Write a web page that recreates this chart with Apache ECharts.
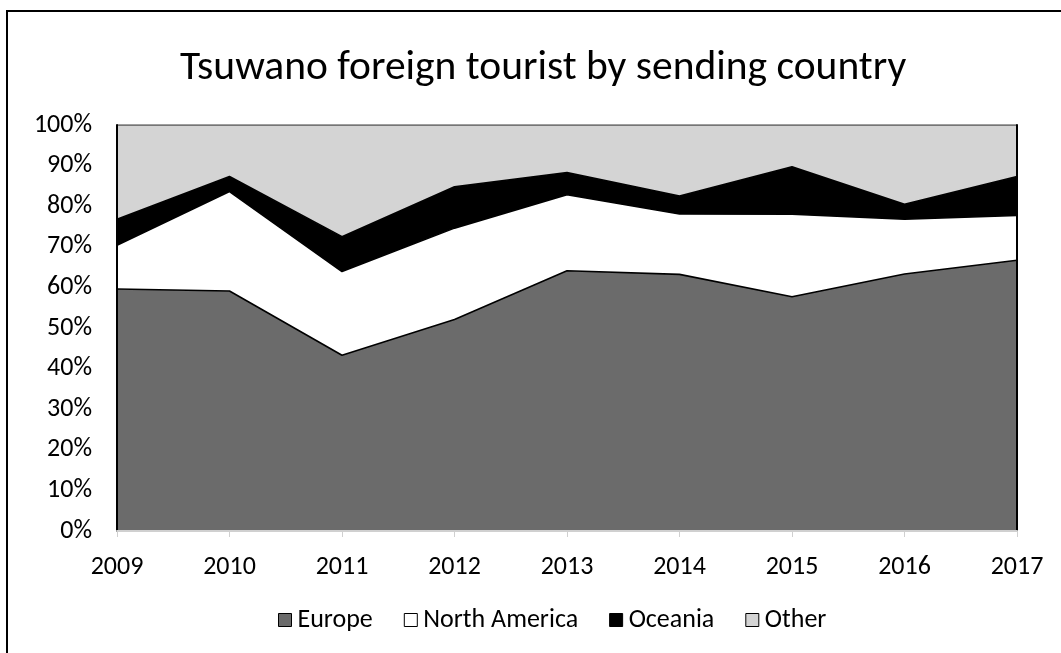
<!DOCTYPE html>
<html>
<head>
<meta charset="utf-8">
<script src="https://cdn.jsdelivr.net/npm/echarts@6/dist/echarts.min.js"></script>
<style>
  html, body { margin: 0; padding: 0; background: #ffffff; }
  #chart { width: 1061px; height: 653px; }
</style>
</head>
<body>
<div id="chart"></div>
<script>
// Share of foreign visitors to Tsuwano by sending region (percent of total)
const years = ['2009', '2010', '2011', '2012', '2013', '2014', '2015', '2016', '2017'];
const europe       = [59.6, 59.1, 43.3, 52.1, 64.1, 63.2, 57.7, 63.3, 66.7];
const northAmerica = [10.8, 24.5, 20.6, 22.5, 18.7, 14.9, 20.3, 13.5, 11.0];
const oceania      = [6.4, 3.7, 8.6, 10.2, 5.5, 4.4, 11.7, 3.7, 9.6];
const other        = [23.2, 12.7, 27.5, 15.2, 11.7, 17.5, 10.3, 19.5, 12.7];

const FONT = 'Carlito, Calibri, "Open Sans", sans-serif';

function layer(name, values, fill, lineColor) {
  return {
    name: name,
    type: 'line',
    stack: 'total',
    data: values,
    symbol: 'none',
    areaStyle: { color: fill, opacity: 1 },
    lineStyle: { color: lineColor, width: 1.6 },
    itemStyle: { color: fill, borderColor: '#000', borderWidth: 1 },
    emphasis: { disabled: true }
  };
}

const chart = echarts.init(document.getElementById('chart'));
chart.setOption({
  animation: false,
  backgroundColor: '#ffffff',
  title: {
    text: 'Tsuwano foreign tourist by sending country',
    left: 175,
    top: 43,
    textStyle: { fontFamily: FONT, fontSize: 41.5, fontWeight: 'normal', color: '#000' }
  },
  legend: {
    top: 602,
    left: 273,
    itemWidth: 13,
    itemHeight: 13,
    itemGap: 31,
    icon: 'rect',
    textStyle: { fontFamily: FONT, fontSize: 26, color: '#000', padding: [0, 0, 0, 1] },
    data: ['Europe', 'North America', 'Oceania', 'Other'],
    itemStyle: { borderColor: '#000', borderWidth: 1 }
  },
  grid: { left: 117, right: 44, top: 125, bottom: 122 },
  xAxis: {
    type: 'category',
    boundaryGap: false,
    data: years,
    axisLine: { lineStyle: { color: '#d0d0d0', width: 2 } },
    axisTick: { show: true, length: 6, lineStyle: { color: '#d0d0d0' } },
    axisLabel: { fontFamily: FONT, fontSize: 26, color: '#000', margin: 23 },
    splitLine: { show: false },
    z: 5
  },
  yAxis: [
    {
      type: 'value',
      min: 0,
      max: 100,
      interval: 10,
      axisLine: { show: true, lineStyle: { color: '#000', width: 2 } },
      axisTick: { show: false },
      axisLabel: { fontFamily: FONT, fontSize: 26, color: '#000', formatter: '{value}%', margin: 25 },
      splitLine: { show: false },
      z: 5
    },
    {
      type: 'value',
      position: 'right',
      min: 0,
      max: 100,
      interval: 10,
      axisLine: { show: true, lineStyle: { color: '#000', width: 2 } },
      axisTick: { show: false },
      axisLabel: { show: false },
      splitLine: { show: false },
      z: 5
    }
  ],
  series: [
    layer('Europe', europe, '#6b6b6b', '#000'),
    layer('North America', northAmerica, '#ffffff', '#000'),
    layer('Oceania', oceania, '#000000', '#000'),
    layer('Other', other, '#d4d4d4', '#555')
  ],
  graphic: [
    {
      type: 'rect',
      shape: { x: 7, y: 11, width: 1100, height: 700 },
      style: { fill: null, stroke: '#000', lineWidth: 2 },
      silent: true,
      z: 10
    }
  ]
});
</script>
</body>
</html>
